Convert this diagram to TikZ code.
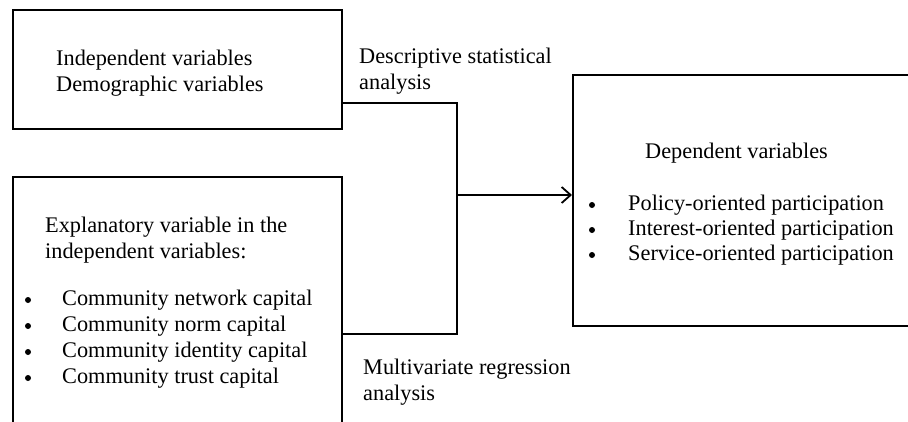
\documentclass[tikz,border=0pt]{standalone}
\usepackage{fontspec}
\setmainfont{Liberation Serif}
\usetikzlibrary{arrows.meta}
\begin{document}
\begin{tikzpicture}[x=1pt, y=-1pt]
  \useasboundingbox (0, 0) rectangle (908, 421);
  \clip (0, 0) rectangle (908, 421);  % Boxen rechts und unten abgeschnitten.
  \tikzstyle{box}=[draw, line width=1.8pt, anchor=north west, inner sep=0pt]
  \tikzstyle{txt}=[anchor=base west, inner sep=0pt, font=\fontsize{22.3}{26}\selectfont]
  \tikzstyle{dot}=[circle, fill=black, inner sep=0pt, minimum size=6pt]
  \tikzstyle{link}=[line width=1.8pt]

  \node[box, minimum width=329pt, minimum height=119pt] (indep) at (12, 9) {};
  \node[box, minimum width=329pt, minimum height=280pt] (explan) at (12, 176) {};
  \node[box, minimum width=350pt, minimum height=251pt] (dep) at (572, 74) {};

  \node[txt] (indep1) at (56, 65) {Independent variables};
  \node[txt] (indep2) at (56, 91) {Demographic variables};

  \node[txt] (explan1) at (45, 232) {Explanatory variable in the};
  \node[txt] (explan2) at (45, 258) {independent variables:};
  \node[txt] (cap1) at (62, 305) {Community network capital};
  \node[txt] (cap2) at (62, 331) {Community norm capital};
  \node[txt] (cap3) at (62, 357) {Community identity capital};
  \node[txt] (cap4) at (62, 383) {Community trust capital};
  \node[dot] (b1) at (28, 300) {};
  \node[dot] (b2) at (28, 326) {};
  \node[dot] (b3) at (28, 352) {};
  \node[dot] (b4) at (28, 378) {};

  \node[txt] (dep0) at (645, 158) {Dependent variables};
  \node[txt] (dep1) at (628, 210) {Policy-oriented participation};
  \node[txt] (dep2) at (628, 235) {Interest-oriented participation};
  \node[txt] (dep3) at (628, 260) {Service-oriented participation};
  \node[dot] (d1) at (592, 205) {};
  \node[dot] (d2) at (592, 230) {};
  \node[dot] (d3) at (592, 255) {};

  \node[txt] (desc1) at (359, 63) {Descriptive statistical};
  \node[txt] (desc2) at (359, 89) {analysis};
  \node[txt] (reg1) at (363, 374) {Multivariate regression};
  \node[txt] (reg2) at (363, 400) {analysis};

  \coordinate (top) at (457, 103);
  \coordinate (bot) at (457, 334);
  \coordinate (mid) at (457, 195);

  \draw[link] (indep.east |- top) -- (top) -- (bot) -- (explan.east |- bot);
  \draw[link, -{Straight Barb[length=9pt, width=16pt, line width=1.8pt]}] (mid) -- (dep.west |- mid);
\end{tikzpicture}
\end{document}
